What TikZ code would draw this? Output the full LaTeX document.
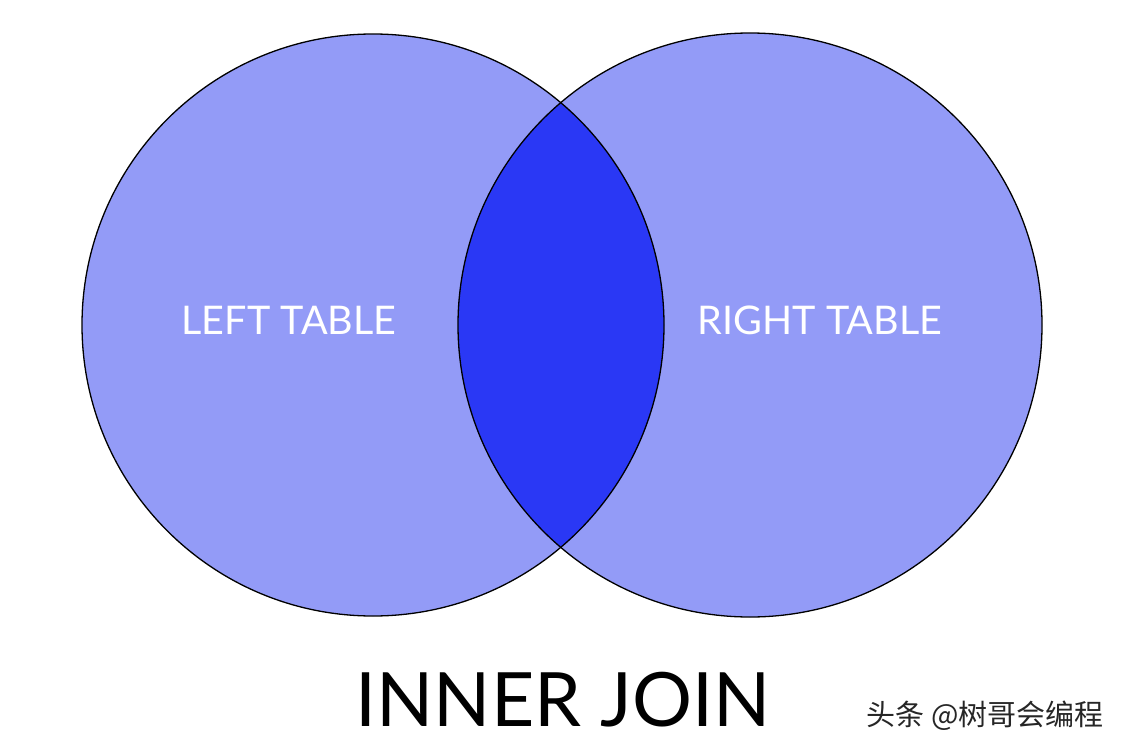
\documentclass[tikz,border=0pt]{standalone}
\usepackage{fontspec}
\setmainfont{Lato}
\newfontfamily\cjk{Noto Sans CJK SC}
\definecolor{lightb}{HTML}{939BF7}
\definecolor{darkb}{HTML}{2A38F5}
\begin{document}
\begin{tikzpicture}[x=1pt,y=-1pt,
  tbl/.style={text=white,font=\fontsize{39.5}{42}\selectfont}]
\useasboundingbox (0,0) rectangle (1124,752);
\fill[white] (0,0) rectangle (1124,752);
\coordinate (L) at (373,325);
\coordinate (R) at (750,325);
\fill[lightb] (L) circle (291);
\fill[lightb] (R) circle (292);
\begin{scope}
  \clip (L) circle (291);
  \fill[darkb] (R) circle (292);
\end{scope}
\draw[line width=1.3pt] (L) circle (291);
\draw[line width=1.3pt] (R) circle (292);
\node[tbl] (lt) at (289,320) {LEFT TABLE};
\node[tbl] (rt) at (820,320) {RIGHT TABLE};
\node[font=\fontsize{75}{78}\selectfont] (ij) at (563,700) {INNER JOIN};
\node[font=\cjk\fontsize{29}{32}\selectfont,text=black!85] (wm) at (985,716) {头条 @树哥会编程};
\end{tikzpicture}
\end{document}
